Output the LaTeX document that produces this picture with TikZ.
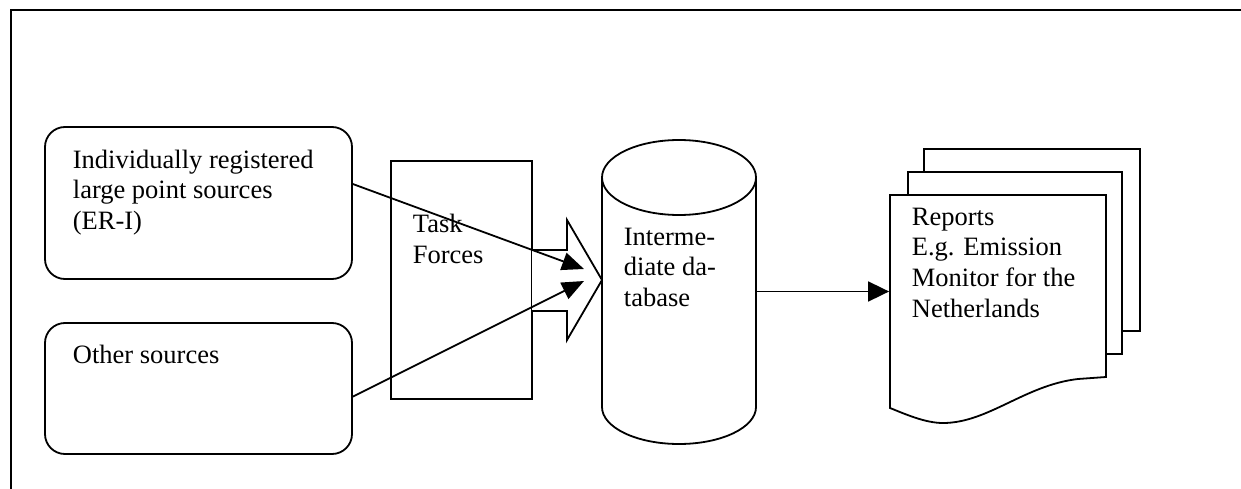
\documentclass[tikz,border=0pt]{standalone}
\usepackage{fontspec}
\setmainfont{Liberation Serif}
\usetikzlibrary{arrows.meta}
\begin{document}
\begin{tikzpicture}[x=1pt,y=-1pt, line width=1.8pt,
  srcbox/.style={draw, rounded corners=20pt, minimum width=307pt, inner sep=0pt},
  txt/.style={anchor=base west, align=left, inner sep=0pt, font=\fontsize{26.5}{30.8}\selectfont},
  conn/.style={-{Triangle[length=22pt,width=18pt]}},
  conntwo/.style={-{Triangle[length=21pt,width=20pt]}},
  page/.style={draw, fill=white},
  ghost/.style={inner sep=0pt, draw=none}
]
\useasboundingbox (0,0) rectangle (1241,489);
% frame
\draw (11,489) -- (11,10) -- (1241,10);

% sources
\node[srcbox, minimum height=152pt] (src1) at (198.5,203) {};
\node[txt] (src1t) at (72,229.6) {Individually registered\\large point sources\\(ER-I)};
\node[srcbox, minimum height=131pt] (src2) at (198.5,388.5) {};
\node[txt] (src2t) at (72,363) {Other sources};

% task forces
\node[draw, minimum width=141pt, minimum height=238pt, inner sep=0pt] (tf) at (461.5,280) {};
\node[txt] (tft) at (412,263) {Task\\Forces};

% block arrow
\fill[white] (532,250) -- (567,250) -- (567,220) -- (602,280) -- (567,340) -- (567,311) -- (532,311) -- cycle;
\draw (532,250) -- (567,250) -- (567,220) -- (602,280) -- (567,340) -- (567,311) -- (532,311);

% database cylinder
\node[ghost, minimum width=154pt, minimum height=305pt] (db) at (679,291.5) {};
\draw[fill=white] (602,177.5) -- (602,407) arc[start angle=180,end angle=0,x radius=77,y radius=37] -- (756,177.5);
\draw[fill=white] (679,177.5) ellipse[x radius=77, y radius=37.5];
\node[txt] (dbt) at (623,306.6) {Interme-\\diate da-\\tabase};

% reports
\draw[page] (924,149) rectangle (1140,331);
\draw[page] (908,172) rectangle (1122,354);
\node[ghost, minimum width=216pt, minimum height=193pt] (rep) at (998,291.5) {};
\draw[page] (890,195) -- (1106,195) -- (1106,377) -- (1078,379)
  .. controls (1025,385) and (988,423) .. (943,423)
  .. controls (925,423) and (905,414) .. (890,408) -- cycle;
\node[txt] (rept) at (911,317.4) {Reports\\E.g. Emission\\Monitor for the\\Netherlands};

% connectors
\coordinate (h1) at (584,269);
\coordinate (h2) at (584,281);
\draw[conn] (src1.7.4) -- (h1);
\draw[conn] (src2.-3.5) -- (h2);
\draw[conntwo] (db.east) -- (rep.west);
\end{tikzpicture}
\end{document}
